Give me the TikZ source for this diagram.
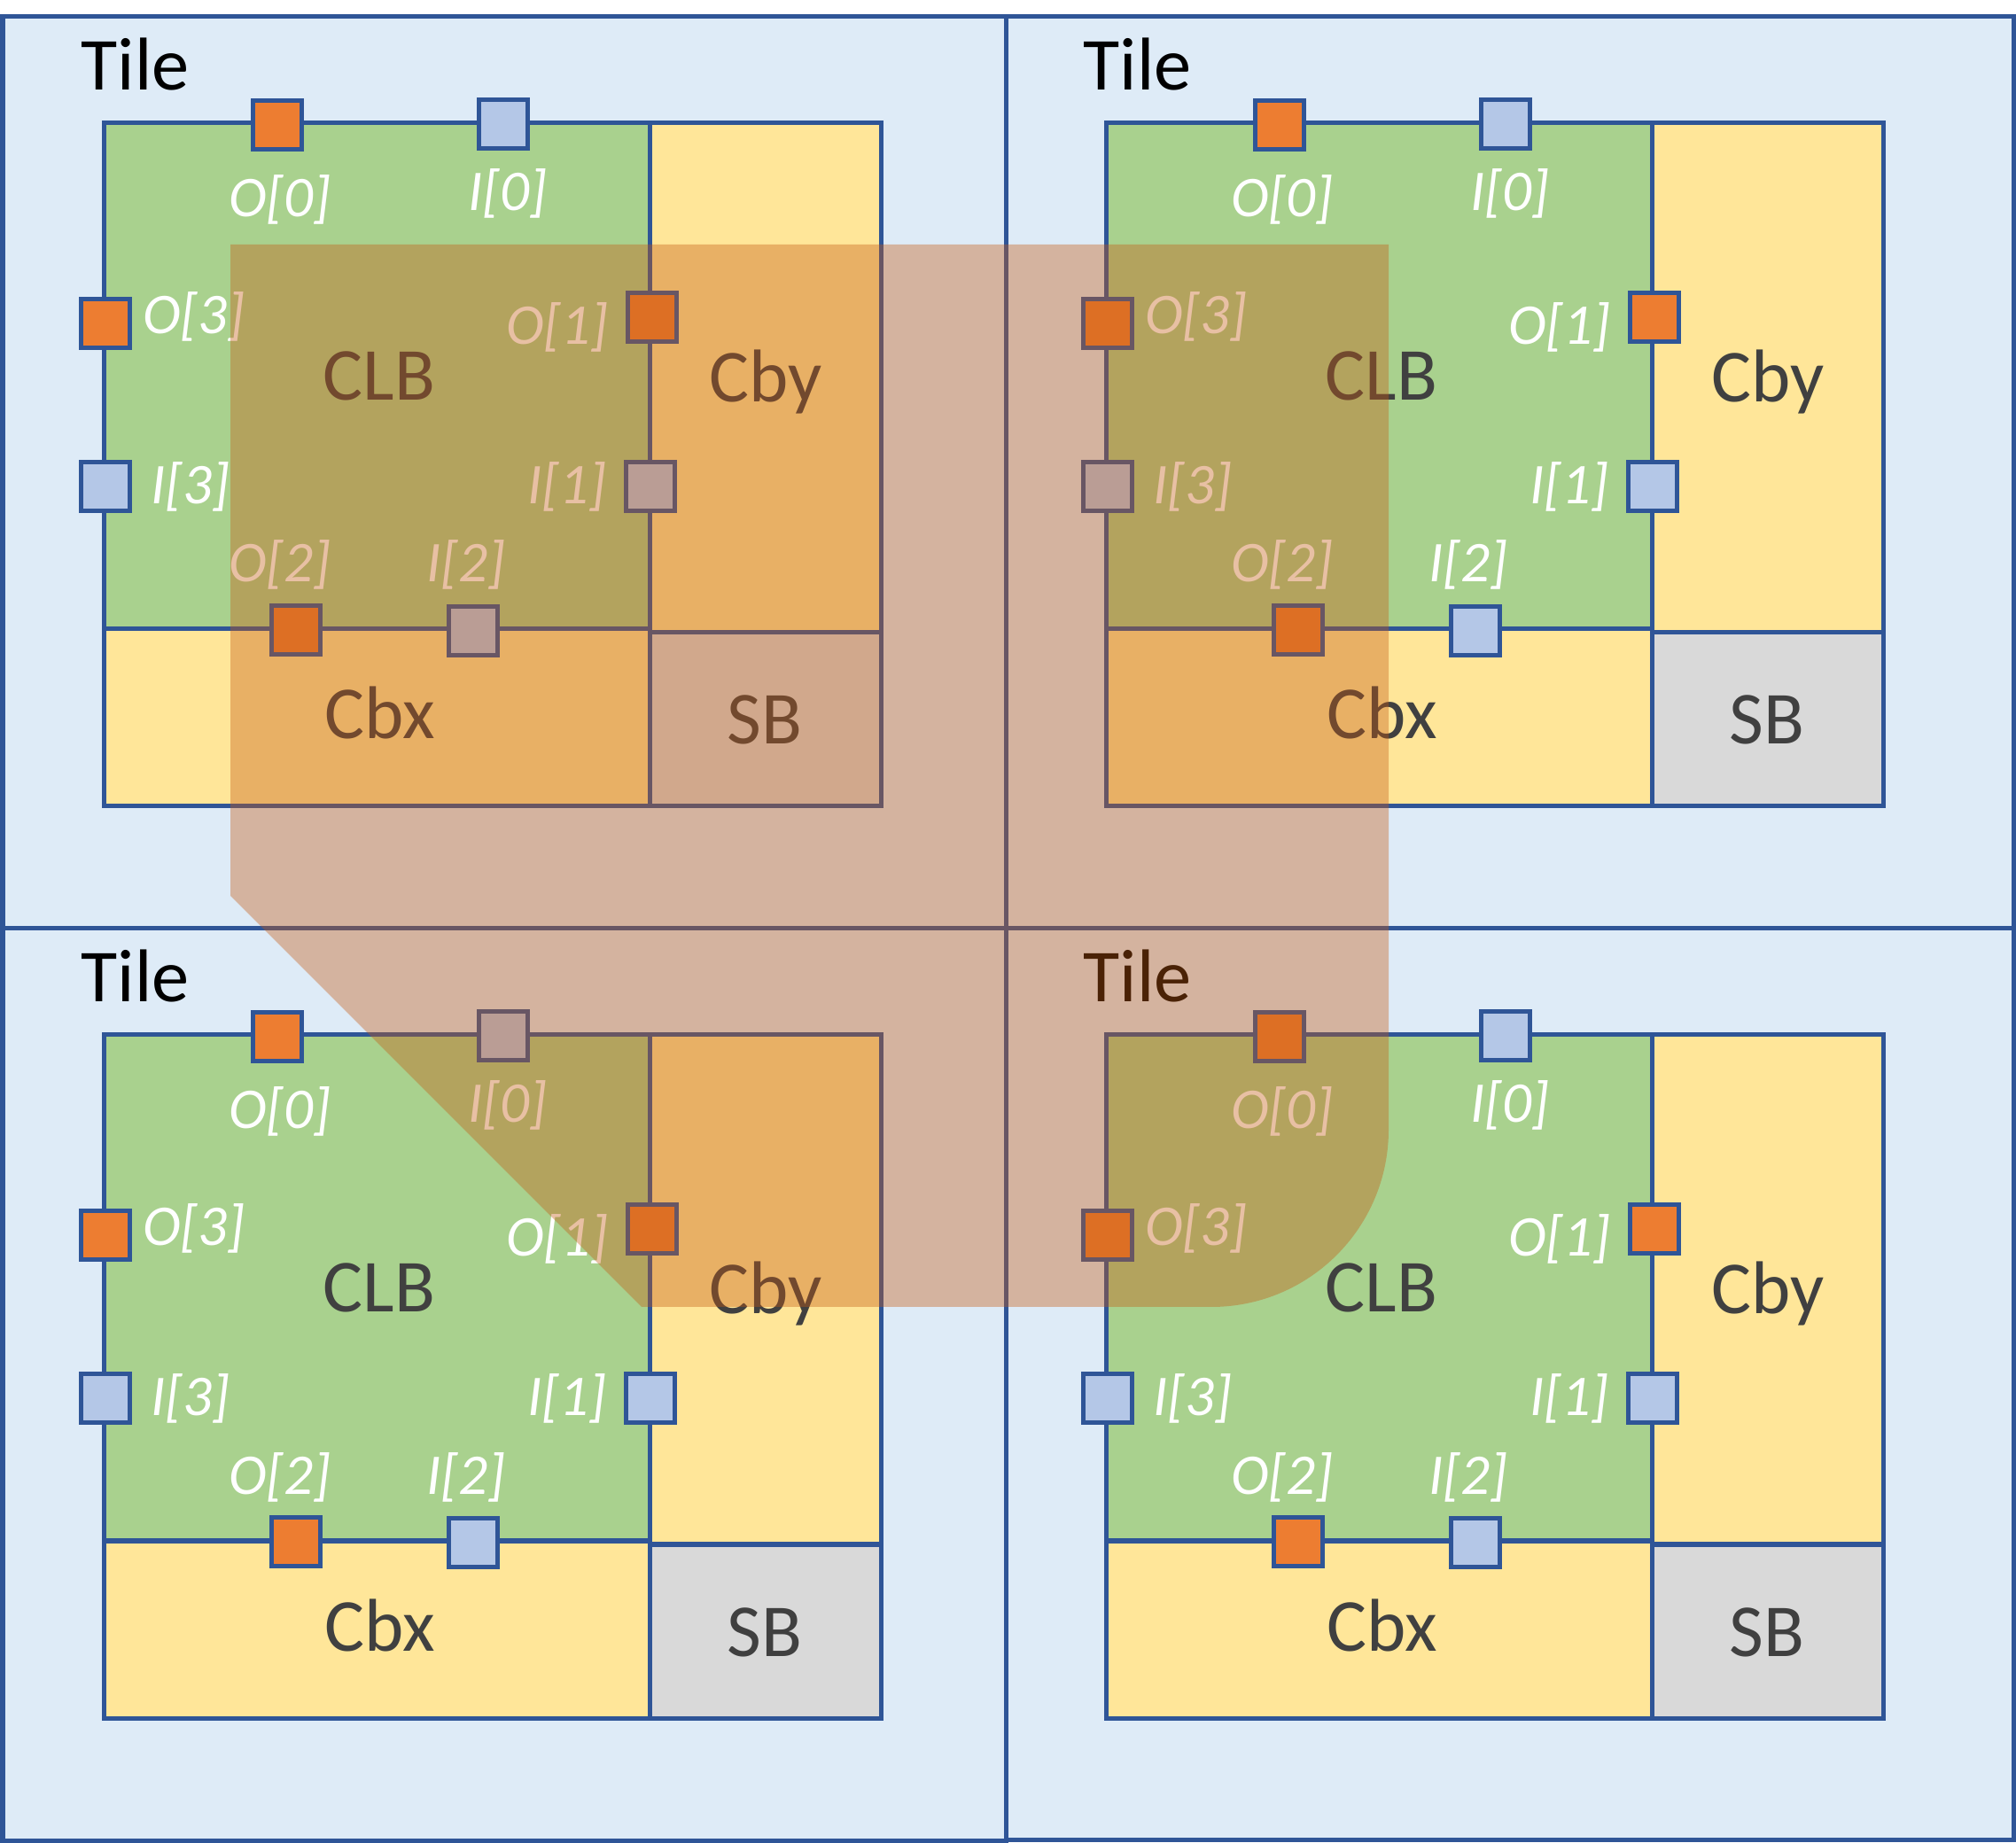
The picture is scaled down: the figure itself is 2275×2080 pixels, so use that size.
\documentclass[tikz,border=0pt]{standalone}
\usepackage{fontspec}
\setmainfont{Carlito}
\definecolor{tilebg}{HTML}{DEEBF7}
\definecolor{edge}{HTML}{2F5597}
\definecolor{clbfill}{HTML}{A9D18E}
\definecolor{cbfill}{HTML}{FFE699}
\definecolor{sbfill}{HTML}{D9D9D9}
\definecolor{ofill}{HTML}{ED7D31}
\definecolor{ifill}{HTML}{B4C7E7}
\definecolor{txt}{HTML}{404040}
\definecolor{hl}{HTML}{C55A11}
\tikzset{
  blk/.style={draw=edge, line width=0.05cm},
  port/.style={rectangle, draw=edge, line width=0.05cm, minimum size=0.55cm, inner sep=0pt, outer sep=0pt},
  oport/.style={port, fill=ofill},
  iport/.style={port, fill=ifill},
  plabel/.style={anchor=base, inner sep=0pt, text=white, font=\fontsize{18.5}{22}\selectfont\itshape},
  blabel/.style={anchor=base, inner sep=0pt, text=txt, font=\fontsize{24}{28}\selectfont},
  tlabel/.style={anchor=base west, inner sep=0pt, text=black, font=\fontsize{24}{28}\selectfont},
  fpgatile/.pic={
    \draw[blk, fill=clbfill] (117.5,138.5) rectangle (733,710);
    \draw[blk, fill=cbfill] (733,138.5) rectangle (994,714);
    \draw[blk, fill=cbfill] (117.5,710) rectangle (733,910);
    \draw[blk, fill=sbfill] (733,714) rectangle (994,910);
    \node[tlabel] (-tile) at (91,102) {Tile};
    \node[blabel] (-clb) at (428,452) {CLB};
    \node[blabel] (-cby) at (864,454) {Cby};
    \node[blabel] (-cbx) at (429,834) {Cbx};
    \node[blabel] (-sb) at (863,840) {SB};
    \node[oport] (-o0) at (313,141) {};
    \node[iport] (-i0) at (568,140) {};
    \node[oport] (-o3) at (119,365) {};
    \node[iport] (-i3) at (119,549) {};
    \node[oport] (-o1) at (736,358) {};
    \node[iport] (-i1) at (734,549) {};
    \node[oport] (-o2) at (334,711) {};
    \node[iport] (-i2) at (534,712) {};
    \node[plabel] (-lo0) at (316,245) {O[0]};
    \node[plabel] (-li0) at (573,238) {I[0]};
    \node[plabel] (-lo3) at (219,377) {O[3]};
    \node[plabel] (-li3) at (215,569) {I[3]};
    \node[plabel] (-lo1) at (629,389) {O[1]};
    \node[plabel] (-li1) at (640,569) {I[1]};
    \node[plabel] (-lo2) at (316,657) {O[2]};
    \node[plabel] (-li2) at (526,657) {I[2]};
  }
}
\begin{document}
\begin{tikzpicture}[x=0.01cm, y=-0.01cm]
  \useasboundingbox (0,0) rectangle (2275,2080);
  \fill[white] (0,0) rectangle (2275,2080);
  \draw[blk, fill=tilebg] (3,19) rectangle (1135,1048);
  \draw[blk, fill=tilebg] (1135,19) rectangle (2272,1048);
  \draw[blk, fill=tilebg] (3,1048) rectangle (1135,2077);
  \draw[blk, fill=tilebg] (1135,1048) rectangle (2272,2076);
  \pic (tl) at (0,0) {fpgatile};
  \pic (tr) at (1131,0) {fpgatile};
  \pic (bl) at (0,1029) {fpgatile};
  \pic (br) at (1131,1029) {fpgatile};
  \fill[hl, fill opacity=0.38] (260,276) -- (1567,276) -- (1567,1275)
    .. controls (1567,1385.5) and (1477.5,1475) .. (1367,1475)
    -- (724,1475) -- (260,1011) -- cycle;
\end{tikzpicture}
\end{document}
